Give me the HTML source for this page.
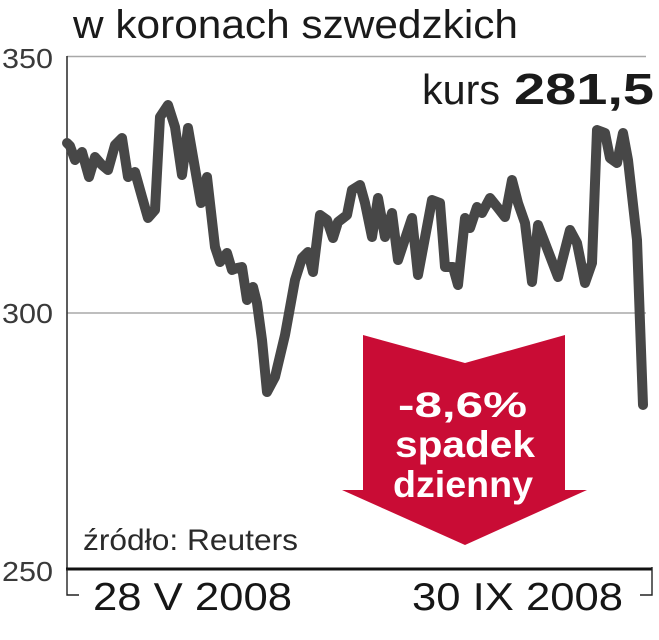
<!DOCTYPE html>
<html><head><meta charset="utf-8"><style>
html,body{margin:0;padding:0;background:#fff;}
svg{display:block;}
</style></head><body>
<svg width="659" height="640" viewBox="0 0 659 640" xmlns="http://www.w3.org/2000/svg">
<rect width="659" height="640" fill="#fff"/>
<text x="73" y="38" font-family="Liberation Sans, sans-serif" font-size="40" fill="#1a1a1a" textLength="445" lengthAdjust="spacingAndGlyphs">w koronach szwedzkich</text>
<line x1="67" y1="56.5" x2="646" y2="56.5" stroke="#a8a8a8" stroke-width="1.5"/>
<line x1="67" y1="313" x2="646" y2="313" stroke="#a8a8a8" stroke-width="1.5"/>
<line x1="67" y1="56" x2="67" y2="569" stroke="#333" stroke-width="1.6"/>
<line x1="66" y1="569" x2="652" y2="569" stroke="#111" stroke-width="3"/>
<path d="M67,569 V595 H79" fill="none" stroke="#222" stroke-width="1.4"/>
<path d="M652,567 V595 H640" fill="none" stroke="#222" stroke-width="1.4"/>
<text x="2" y="68" font-family="Liberation Sans, sans-serif" font-size="28" fill="#3a3a3a" textLength="51" lengthAdjust="spacingAndGlyphs">350</text>
<text x="2" y="323" font-family="Liberation Sans, sans-serif" font-size="28" fill="#3a3a3a" textLength="51" lengthAdjust="spacingAndGlyphs">300</text>
<text x="2" y="581" font-family="Liberation Sans, sans-serif" font-size="28" fill="#3a3a3a" textLength="51" lengthAdjust="spacingAndGlyphs">250</text>
<text x="422" y="104" font-family="Liberation Sans, sans-serif" font-size="42" fill="#1a1a1a" textLength="78" lengthAdjust="spacingAndGlyphs">kurs</text>
<text x="514" y="104" font-family="Liberation Sans, sans-serif" font-weight="bold" font-size="44" fill="#1a1a1a" textLength="140" lengthAdjust="spacingAndGlyphs">281,5</text>
<polygon points="363,335 465,363 565,335 565,490 587,490 465,545 342,490 363,490" fill="#c90c35"/>
<text x="398" y="417" font-family="Liberation Sans, sans-serif" font-weight="bold" font-size="35" fill="#fff" textLength="129" lengthAdjust="spacingAndGlyphs">-8,6%</text>
<text x="395" y="457" font-family="Liberation Sans, sans-serif" font-weight="bold" font-size="37" fill="#fff" textLength="140" lengthAdjust="spacingAndGlyphs">spadek</text>
<text x="393" y="497" font-family="Liberation Sans, sans-serif" font-weight="bold" font-size="37" fill="#fff" textLength="140" lengthAdjust="spacingAndGlyphs">dzienny</text>
<polyline fill="none" stroke="#474747" stroke-width="10" stroke-linejoin="round" stroke-linecap="round" points="67,143 70,146 75,160 82,152 89,177 95,157 102,165 108,170 115,145 122,138 128,177 135,172 142,197 148,218 155,210 160,117 168,105 175,127 182,175 188,128 201,203 207,177 215,247 220,262 227,253 232,270 237,268 242,267 247,300 253,287 257,303 262,340 267,392 275,377 285,335 295,280 302,258 308,252 313,272 320,215 327,220 333,238 338,222 347,215 352,190 360,185 365,203 372,237 378,198 385,237 392,213 398,260 412,218 418,275 432,200 440,203 445,267 453,267 458,285 465,218 470,228 477,207 482,213 490,198 498,208 505,217 512,180 518,203 525,223 532,282 538,225 545,243 558,277 570,230 577,243 585,283 592,263 597,130 605,133 610,158 617,163 623,133 628,160 637,240 643,405"/>
<text x="83" y="550" font-family="Liberation Sans, sans-serif" font-size="30" fill="#2a2a2a" textLength="215" lengthAdjust="spacingAndGlyphs">źródło: Reuters</text>
<text x="93" y="610" font-family="Liberation Sans, sans-serif" font-size="39" fill="#161616" textLength="199" lengthAdjust="spacingAndGlyphs">28 V 2008</text>
<text x="412" y="610" font-family="Liberation Sans, sans-serif" font-size="39" fill="#161616" textLength="211" lengthAdjust="spacingAndGlyphs">30 IX 2008</text>
</svg>
</body></html>
